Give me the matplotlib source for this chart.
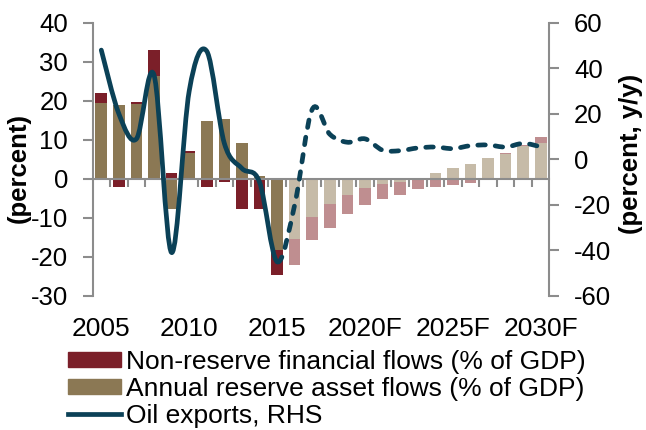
import numpy as np
import matplotlib
matplotlib.use("Agg")
import matplotlib.pyplot as plt
import matplotlib.transforms as mtransforms
from matplotlib.path import Path
from matplotlib.patches import PathPatch, Patch
from matplotlib.lines import Line2D

plt.rcParams['font.family'] = ['Liberation Sans', 'DejaVu Sans']
plt.rcParams['axes.unicode_minus'] = False

# ---- data ----
years = np.arange(2005, 2031)
reserve_flows = [19.4, 18.9, 19.3, 26.4, -7.7, 6.7, 14.7, 15.4, 9.2, 0.8, -18.2,
                 -15.4, -9.8, -6.5, -4.2, -2.4, -1.3, -0.7, 0.0, 1.5, 2.8,
                 3.8, 5.4, 6.4, 8.3, 9.1]
nonreserve_flows = [2.5, -2.0, 0.4, 6.7, 1.5, 0.4, -2.2, -0.9, -7.8, -7.7, -6.4,
                    -6.7, -6.0, -6.1, -4.9, -4.2, -3.8, -3.4, -2.7, -2.2, -1.7,
                    -1.2, -0.4, 0.3, 0.3, 1.5]
oil_exports = [48, 20, 9, 37, -41, 30, 47.5, 7, -4, -10, -45,
               -20, 22, 11, 7.5, 9, 4, 3.8, 5, 5.4, 4.7,
               6, 6.3, 5.4, 7, 5.5]
first_forecast = 2016
label_years = [2005, 2010, 2015, 2020, 2025, 2030]
x_labels = ['2005', '2010', '2015', '2020F', '2025F', '2030F']

RED, TAN = '#7b1f29', '#8b7854'
PINK, LTAN = '#bf8e90', '#c6bba8'
LINE = '#0b4157'
GREY = '#8c8c8c'
FS = 18.5

res = np.array(reserve_flows)
nres = np.array(nonreserve_flows)
fc = years >= first_forecast
nres_bottom = np.where(np.sign(nres) == np.sign(res), res, 0)

fig = plt.figure(figsize=(6.46, 4.30), dpi=100)
ax = fig.add_axes([0.144, 0.312, 0.706, 0.635])
ax2 = ax.twinx()

w = 0.66
ax.bar(years, res, w, color=np.where(fc, LTAN, TAN), zorder=2)
ax.bar(years, nres, w, bottom=nres_bottom, color=np.where(fc, PINK, RED), zorder=2)

ax.set_xlim(2004.53, 2030.47)
ax.set_ylim(-30, 40)
ax.set_yticks(range(-30, 41, 10))
ax2.set_ylim(-60, 60)
ax2.set_yticks(range(-60, 61, 20))

# smooth line (Catmull-Rom as cubic Bezier segments)
pts = np.column_stack([years, oil_exports]).astype(float)
ext = np.vstack([pts[0], pts, pts[-1]])


def bezier_path(i0, i1):
    verts = [pts[i0]]
    codes = [Path.MOVETO]
    for i in range(i0, i1):
        p0, p1, p2, p3 = ext[i], ext[i + 1], ext[i + 2], ext[i + 3]
        verts += [p1 + (p2 - p0) / 6, p2 - (p3 - p1) / 6, p2]
        codes += [Path.CURVE4] * 3
    return Path(verts, codes)


split = int(np.argmax(years == 2015))
solid = PathPatch(bezier_path(0, split), fill=False, ec=LINE, lw=3.4,
                  capstyle='round', joinstyle='round', zorder=3)
dashed = PathPatch(bezier_path(split, len(years) - 1), fill=False, ec=LINE,
                   lw=3.4, linestyle=(0, (1.6, 2.1)), capstyle='round', zorder=3)
ax2.add_patch(solid)
ax2.add_patch(dashed)

# spines and ticks
for s in ['top', 'right']:
    ax.spines[s].set_visible(False)
for s in ['top', 'left', 'bottom']:
    ax2.spines[s].set_visible(False)
ax.spines['bottom'].set_position(('data', 0))
ax.spines['left'].set_color(GREY)
ax.spines['bottom'].set_color(GREY)
ax2.spines['right'].set_color(GREY)
for s in [ax.spines['left'], ax.spines['bottom'], ax2.spines['right']]:
    s.set_linewidth(1.5)
ax.set_xticks(years[:-1] + 0.5)
ax.set_xticklabels([])
ax.tick_params(axis='x', length=6, width=1.5, color=GREY, direction='out')
ax.tick_params(axis='y', length=7, width=1.5, color=GREY, labelsize=FS, pad=11)
ax2.tick_params(axis='y', length=7, width=1.5, color=GREY, labelsize=FS, pad=11)

trans = mtransforms.blended_transform_factory(ax.transData, ax.transAxes)
for yr, lab in zip(label_years, x_labels):
    ax.text(yr, -0.12, lab, transform=trans, ha='center', va='center', fontsize=FS + 0.5)

fig.text(0.029, 0.609, '(percent)', rotation=90, ha='center', va='center',
         fontsize=FS, fontweight='bold')
fig.text(0.977, 0.642, '(percent, y/y)', rotation=90, ha='center', va='center',
         fontsize=FS, fontweight='bold')

handles = [Patch(color=RED), Patch(color=TAN), Line2D([], [], color=LINE, lw=3.4)]
labels = ['Non-reserve financial flows (% of GDP)',
          'Annual reserve asset flows (% of GDP)', 'Oil exports, RHS']
fig.legend(handles, labels, loc='upper left', bbox_to_anchor=(0.105, 0.186),
           frameon=False, fontsize=19, handlelength=2.0, handleheight=0.5,
           handletextpad=0.2, labelspacing=0.11, borderpad=0, borderaxespad=0)

fig.savefig('out.png', dpi=100)
